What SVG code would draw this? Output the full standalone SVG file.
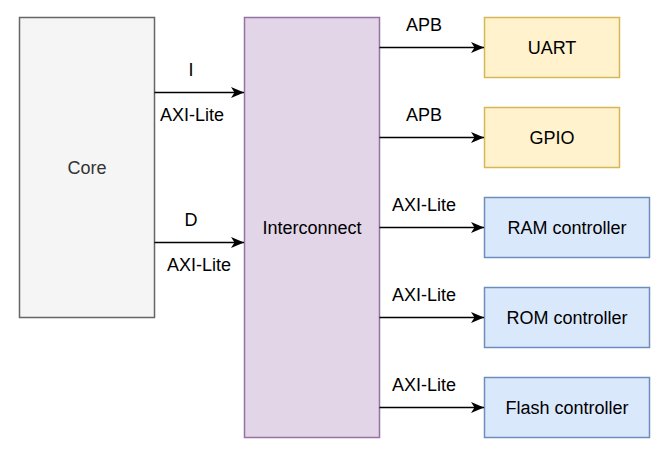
<svg xmlns="http://www.w3.org/2000/svg" width="669" height="461" viewBox="0 0 669 461">
<style>
text{font-family:"Liberation Sans",Arial,sans-serif;font-size:18px;fill:#000;text-anchor:middle}
.core{fill:#f5f5f5;stroke:#666666;stroke-width:1.5}
.ic{fill:#e1d5e7;stroke:#9673a6;stroke-width:1.5}
.per{fill:#fff2cc;stroke:#d6b656;stroke-width:1.5}
.mem{fill:#dae8fc;stroke:#6c8ebf;stroke-width:1.5}
.conn{stroke:#000;stroke-width:1.5;fill:none;marker-end:url(#arr)}
</style>
<defs>
<marker id="arr" markerUnits="userSpaceOnUse" markerWidth="14" markerHeight="12" viewBox="0 0 14 12" refX="13" refY="6" orient="auto">
<path d="M0,0.5 L13,6 L0,11.5 L3.5,6 Z" fill="#000"/>
</marker>
</defs>
<rect width="669" height="461" fill="#fff"/>
<g id="core"><rect class="core" x="19.5" y="17.5" width="135" height="300"/><text x="87" y="173.5" style="fill:#333">Core</text></g>
<g id="interconnect"><rect class="ic" x="244.5" y="17.5" width="135" height="420"/><text x="312" y="233.5">Interconnect</text></g>
<g id="uart"><rect class="per" x="484.5" y="17.5" width="135" height="60"/><text x="552" y="53.5">UART</text></g>
<g id="gpio"><rect class="per" x="484.5" y="107.5" width="135" height="60"/><text x="552" y="143.5">GPIO</text></g>
<g id="ram"><rect class="mem" x="484.5" y="197.5" width="165" height="60"/><text x="567" y="233.5">RAM controller</text></g>
<g id="rom"><rect class="mem" x="484.5" y="287.5" width="165" height="60"/><text x="567" y="323.5">ROM controller</text></g>
<g id="flash"><rect class="mem" x="484.5" y="377.5" width="165" height="60"/><text x="567" y="413.5">Flash controller</text></g>
<g id="connectors">
<path class="conn" d="M154.5,92.5 H244"/>
<path class="conn" d="M154.5,242.5 H244"/>
<path class="conn" d="M379.5,47.5 H484"/>
<path class="conn" d="M379.5,137.5 H484"/>
<path class="conn" d="M379.5,227.5 H484"/>
<path class="conn" d="M379.5,317.5 H484"/>
<path class="conn" d="M379.5,407.5 H484"/>
<text x="191" y="76">I</text>
<text x="192" y="121">AXI-Lite</text>
<text x="191" y="226">D</text>
<text x="199" y="271">AXI-Lite</text>
<text x="424" y="31">APB</text>
<text x="424" y="121">APB</text>
<text x="424" y="211">AXI-Lite</text>
<text x="424" y="301">AXI-Lite</text>
<text x="424" y="391">AXI-Lite</text>
</g>
</svg>
